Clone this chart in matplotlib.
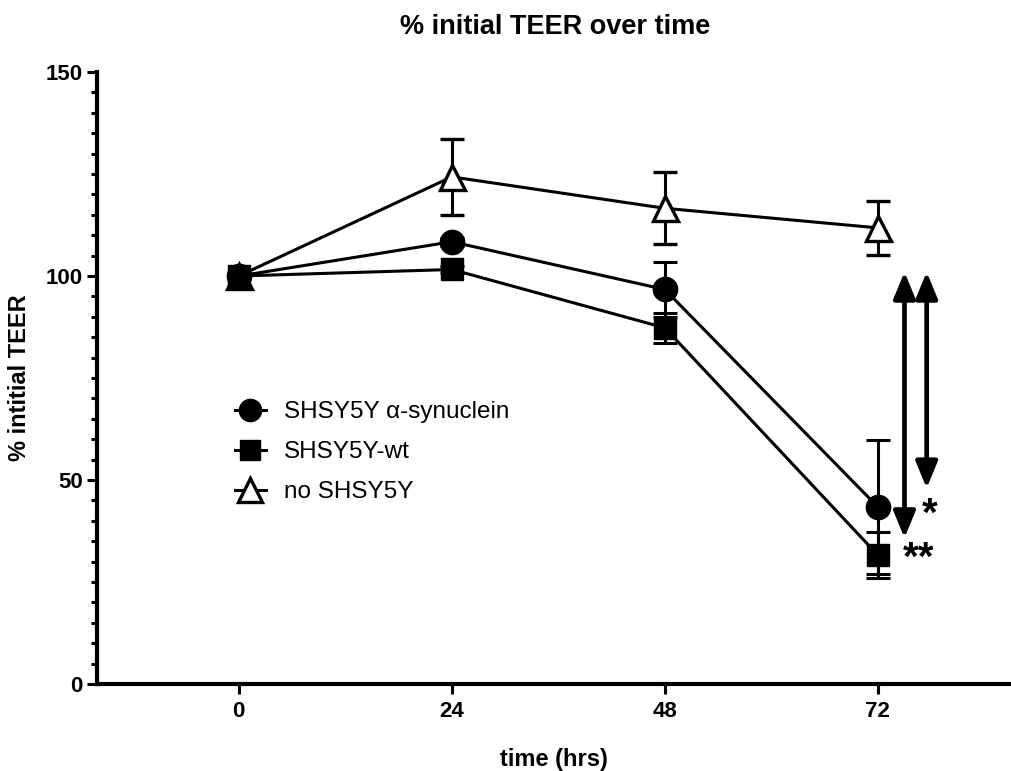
import matplotlib.pyplot as plt
from matplotlib.lines import Line2D
from matplotlib.ticker import MultipleLocator

plt.rcParams['font.family'] = ['Liberation Sans', 'DejaVu Sans']
plt.rcParams['font.weight'] = 'bold'

# data (mean, error)
time_hrs = [0, 24, 48, 72]
asyn_mean = [100, 108.4, 96.7, 43.4]
asyn_err = [0, 1.0, 6.7, 16.4]
wt_mean = [100, 101.6, 87.3, 31.6]
wt_err = [0, 0.8, 3.6, 5.6]
none_mean = [100, 124.3, 116.6, 111.8]
none_err = [0, 9.3, 8.8, 6.6]

labels = ["SHSY5Y \u03b1-synuclein", "SHSY5Y-wt", "no SHSY5Y"]

# significance arrows: x, top, bottom, star text, star position
sig_x = [75.0, 77.5]
sig_top = [101, 101]
sig_bottom = [35.8, 48.0]
star_text = ["**", "*"]
star_x = [76.6, 77.8]
star_y = [30.7, 41.4]

fig = plt.figure(figsize=(10.11, 7.71), dpi=100)
ax = fig.add_axes([0.0957, 0.1128, 0.9043, 0.7938])

lw = 2.2
ebar = dict(color="black", lw=lw, capsize=8.5, capthick=lw, elinewidth=lw)

ax.errorbar(time_hrs, none_mean, yerr=none_err, marker="^", mfc="white",
            mec="black", mew=2.4, markersize=18, zorder=2, **ebar)
ax.errorbar(time_hrs, asyn_mean, yerr=asyn_err, marker="o", mfc="black",
            markersize=17.5, zorder=3, **ebar)
ax.errorbar(time_hrs, wt_mean, yerr=wt_err, marker="s", mfc="black",
            markersize=16.5, zorder=4, **ebar)

for x, top, bot in zip(sig_x, sig_top, sig_bottom):
    ax.annotate("", xy=(x, bot), xytext=(x, top),
                arrowprops=dict(arrowstyle="<|-|>,head_length=0.8,head_width=0.33",
                                mutation_scale=20, lw=3.4, color="black",
                                shrinkA=0, shrinkB=0))

for t, x, y in zip(star_text, star_x, star_y):
    ax.text(x, y, t, fontsize=29, fontweight="bold", ha="center", va="center")

ax.set_xlim(-16, 87)
ax.set_ylim(0, 150)
ax.set_xticks(time_hrs)
ax.yaxis.set_major_locator(MultipleLocator(50))
ax.yaxis.set_minor_locator(MultipleLocator(5))

for s in ["top", "right"]:
    ax.spines[s].set_visible(False)
for s in ["left", "bottom"]:
    ax.spines[s].set_linewidth(3)

ax.tick_params(axis="both", which="major", length=7, width=2.2, labelsize=16)
ax.tick_params(axis="y", which="minor", length=4.5, width=2.2)
ax.tick_params(axis="x", pad=5)
ax.tick_params(axis="y", pad=3)
for lab in ax.get_xticklabels() + ax.get_yticklabels():
    lab.set_fontweight("bold")

ax.set_xlabel("time (hrs)", fontsize=17, fontweight="bold")
ax.xaxis.set_label_coords(0.5, -0.105)
ax.set_ylabel("% intitial TEER", fontsize=17, fontweight="bold")
ax.yaxis.set_label_coords(-0.072, 0.5)

fig.text(0.549, 1 - 27 / 771, "% initial TEER over time", fontsize=19.5,
         fontweight="bold", ha="center", va="center")

handles = [
    Line2D([], [], color="black", lw=lw, marker="o", mfc="black", markersize=16),
    Line2D([], [], color="black", lw=lw, marker="s", mfc="black", markersize=15),
    Line2D([], [], color="black", lw=lw, marker="^", mfc="white", mec="black",
           mew=2.4, markersize=17),
]
leg = ax.legend(handles=handles, labels=labels, loc="upper left",
                bbox_to_anchor=(0.1515, 0.462), frameon=False, fontsize=17.5,
                handlelength=1.25, handletextpad=0.75, labelspacing=0.74,
                borderpad=0, borderaxespad=0)
for t in leg.get_texts():
    t.set_fontweight("normal")

fig.savefig("out.png", dpi=100)
